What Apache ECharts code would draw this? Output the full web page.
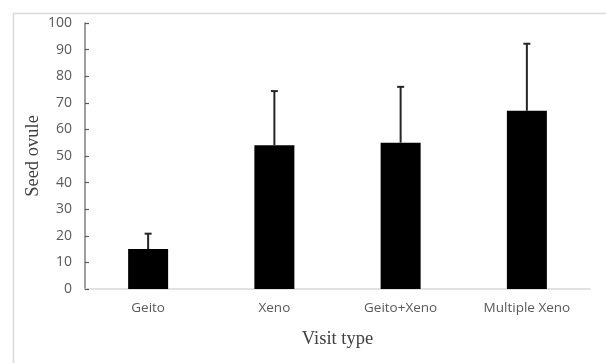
<!DOCTYPE html>
<html>
<head>
<meta charset="utf-8">
<script src="https://cdn.jsdelivr.net/npm/echarts@6/dist/echarts.min.js"></script>
<style>
html,body{margin:0;padding:0;background:#fff;}
#c{width:606px;height:363px;}
</style>
</head>
<body>
<div id="c"></div>
<script>
var categories = ['Geito', 'Xeno', 'Geito+Xeno', 'Multiple Xeno'];
var means = [15, 54, 55, 67];
var errors = [5.8, 20.4, 21, 25.2];
var yTicks = [0, 10, 20, 30, 40, 50, 60, 70, 80, 90, 100];

var chart = echarts.init(document.getElementById('c'), null, {renderer: 'canvas'});
var errData = means.map(function (m, i) { return [i, m, m + errors[i]]; });

chart.setOption({
  animation: false,
  backgroundColor: '#fff',
  graphic: [{
    type: 'rect',
    shape: {x: 13.5, y: 13.5, width: 620, height: 400},
    style: {fill: 'none', stroke: '#d9d9d9', lineWidth: 1.5},
    silent: true
  }],
  grid: {left: 85, right: 16, top: 23, bottom: 74},
  xAxis: {
    type: 'category',
    data: categories,
    axisLine: {lineStyle: {color: '#d9d9d9', width: 1.5}},
    axisTick: {show: false},
    axisLabel: {color: '#595959', fontFamily: 'Open Sans', fontSize: 13.5, margin: 12},
    name: 'Visit type',
    nameLocation: 'middle',
    nameGap: 41,
    nameMoveOverlap: false,
    nameTextStyle: {color: '#404040', fontFamily: 'Liberation Serif', fontSize: 18.5}
  },
  yAxis: {
    type: 'value',
    min: yTicks[0],
    max: yTicks[yTicks.length - 1],
    interval: 10,
    splitLine: {show: false},
    axisLine: {show: true, lineStyle: {color: '#7f7f7f', width: 1.5}},
    axisTick: {show: true, inside: true, length: 4, lineStyle: {color: '#595959', width: 1.2}},
    axisLabel: {color: '#595959', fontFamily: 'Open Sans', fontSize: 14, margin: 13},
    name: 'Seed ovule',
    nameLocation: 'middle',
    nameGap: 42,
    nameMoveOverlap: false,
    nameTextStyle: {color: '#404040', fontFamily: 'Liberation Serif', fontSize: 18.5}
  },
  series: [{
    type: 'bar',
    data: means,
    barWidth: 40,
    itemStyle: {color: '#000'},
    z: 2
  }, {
    type: 'custom',
    data: errData,
    encode: {x: 0, y: [1, 2]},
    z: 3,
    renderItem: function (params, api) {
      var x = api.value(0);
      var p0 = api.coord([x, api.value(1)]);
      var p1 = api.coord([x, api.value(2)]);
      var cap = 3.5;
      var style = {stroke: '#262626', lineWidth: 2};
      return {
        type: 'group',
        children: [
          {type: 'line', shape: {x1: p0[0], y1: p0[1], x2: p1[0], y2: p1[1]}, style: style},
          {type: 'line', shape: {x1: p1[0] - cap, y1: p1[1], x2: p1[0] + cap, y2: p1[1]}, style: style}
        ]
      };
    }
  }]
});
</script>
</body>
</html>
